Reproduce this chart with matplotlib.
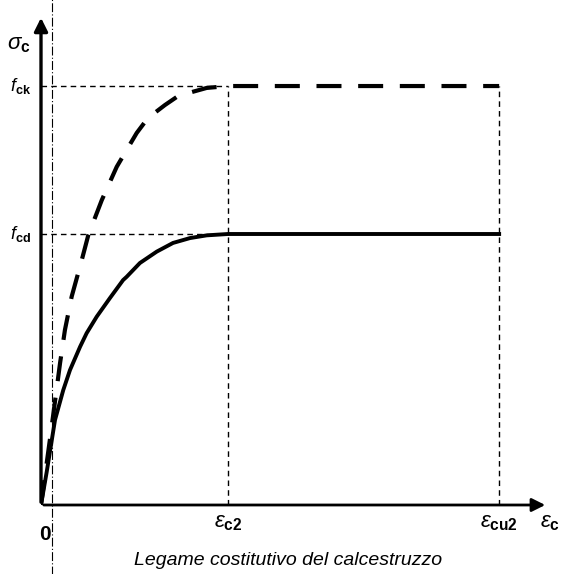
import matplotlib
matplotlib.use('Agg')
import matplotlib.pyplot as plt

# schematic units: eps_c2 = 1, f_cd = 1
eps_c2 = 1.0
eps_cu2 = 2.45
f_cd = 1.0
f_ck = 1.546

# design curve (solid), parabola-rectangle
solid_eps = [0.0, 0.03, 0.075, 0.119, 0.155, 0.209, 0.244, 0.298, 0.369, 0.439, 0.458,
             0.529, 0.619, 0.706, 0.797, 0.886, 1.0, 2.45]
solid_sig = [0.0, 0.12, 0.314, 0.424, 0.498, 0.584, 0.634, 0.695, 0.764, 0.830, 0.842,
             0.893, 0.935, 0.967, 0.985, 0.995, 1.0, 1.0]

# characteristic curve (dashed)
dash_eps = [0.0, 0.057, 0.102, 0.128, 0.164, 0.218, 0.253, 0.325, 0.405, 0.458, 0.512,
            0.572, 0.663, 0.733, 0.813, 0.886, 1.0, 2.45]
dash_sig = [0.0, 0.289, 0.524, 0.646, 0.769, 0.904, 0.996, 1.125, 1.248, 1.31, 1.373,
            1.428, 1.476, 1.509, 1.525, 1.539, 1.546, 1.546]

plt.rcParams['font.family'] = ['Liberation Sans', 'DejaVu Sans']
plt.rcParams['mathtext.fontset'] = 'custom'
plt.rcParams['mathtext.rm'] = 'Liberation Sans'
plt.rcParams['mathtext.it'] = 'Liberation Sans:italic'
plt.rcParams['mathtext.bf'] = 'Liberation Sans:bold'

fig = plt.figure(figsize=(5.65, 5.74), dpi=100)
ax = fig.add_axes([41 / 565, 69 / 574, 507 / 565, 490 / 574])
ax.set_xlim(0, 507 / 187)
ax.set_ylim(0, 490 / 271)
ax.axis('off')

# thin dashed reference lines
ref = dict(color='k', lw=1.0, ls=(0, (4, 3)))
ax.plot([0, eps_c2], [f_ck, f_ck], **ref)
ax.plot([0, eps_c2], [f_cd, f_cd], **ref)
ax.plot([eps_c2, eps_c2], [0, f_ck], **ref)
ax.plot([eps_cu2, eps_cu2], [0, f_ck], **ref)

# scan line near the y axis
ax.plot([0.059, 0.059], [-0.26, 1.87], color='k', lw=0.8, ls=(0, (8, 2, 1, 2)), clip_on=False)

# curves
ax.plot(solid_eps, solid_sig, color='k', lw=2.8, solid_joinstyle='round')
ax.plot(dash_eps, dash_sig, color='k', lw=3.0, ls=(0, (6, 4)))

# axes with arrows
ax.annotate('', xy=(507 / 187, 0), xytext=(0, 0),
            arrowprops=dict(arrowstyle='-|>', lw=2.0, color='k', mutation_scale=20),
            annotation_clip=False)
ax.annotate('', xy=(0, 490 / 271), xytext=(0, 0),
            arrowprops=dict(arrowstyle='-|>', lw=2.4, color='k', mutation_scale=20),
            annotation_clip=False)

# labels
ax.text(-0.12, 1.70, r'$\sigma_\mathbf{c}$', fontsize=16, ha='center', va='center')
ax.text(-0.11, f_ck, r'$f_\mathbf{ck}$', fontsize=13, ha='center', va='center')
ax.text(-0.11, f_cd, r'$f_\mathbf{cd}$', fontsize=13, ha='center', va='center')
ax.text(0.02, -0.11, '0', fontsize=15, fontweight='bold', ha='center', va='center')
ax.text(eps_c2, -0.025, r'$\varepsilon_\mathbf{c2}$', fontsize=16, ha='center', va='top')
ax.text(eps_cu2, -0.025, r'$\varepsilon_\mathbf{cu2}$', fontsize=16, ha='center', va='top')
ax.text(2.72, -0.025, r'$\varepsilon_\mathbf{c}$', fontsize=16, ha='center', va='top')
ax.text(1.32, -0.203, 'Legame costitutivo del calcestruzzo', fontsize=14,
        style='italic', ha='center', va='center')

fig.savefig('out.png', dpi=100)
